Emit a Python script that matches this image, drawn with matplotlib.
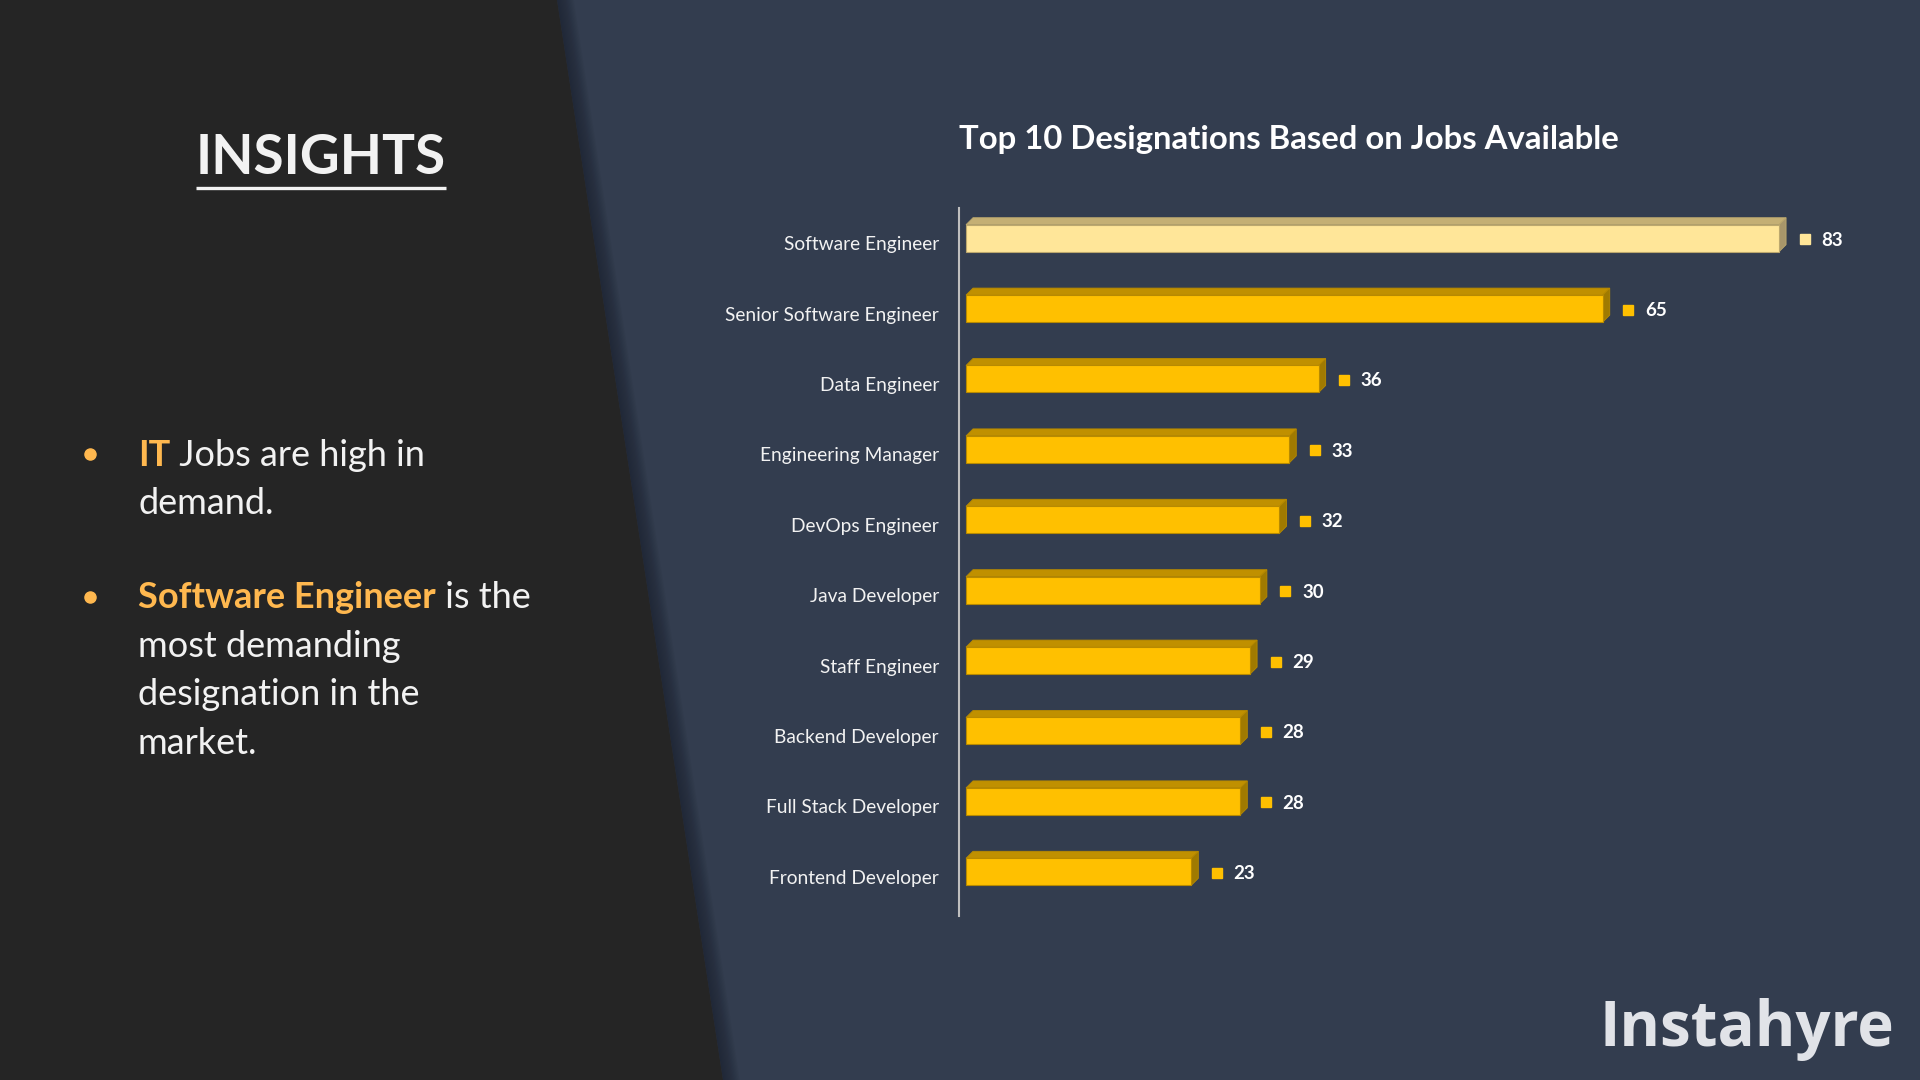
import matplotlib
matplotlib.use("Agg")
import matplotlib.pyplot as plt
from matplotlib.patches import Polygon

# data
designations = ["Software Engineer", "Senior Software Engineer", "Data Engineer",
                "Engineering Manager", "DevOps Engineer", "Java Developer",
                "Staff Engineer", "Backend Developer", "Full Stack Developer",
                "Frontend Developer"]
jobs = [83, 65, 36, 33, 32, 30, 29, 28, 28, 23]
highlight = "Software Engineer"

title = "Top 10 Designations Based on Jobs Available"
heading = "INSIGHTS"
bullets = [
    [[("IT", True), (" Jobs are high in", False)], [("demand.", False)]],
    [[("Software Engineer", True), (" is the", False)], [("most demanding", False)],
     [("designation in the", False)], [("market.", False)]],
]
brand = "Instahyre"

plt.rcParams['font.family'] = ['Lato', 'DejaVu Sans']

W, H = 1920, 1080
dark = "#252525"
navy = "#333d4f"
white = "#f2f2f2"
orange = "#ffb84f"

gold = dict(front="#ffc000", top="#c09000", side="#a07a00", edge="#b88a00")
pale = dict(front="#ffe699", top="#c4af74", side="#a8966a", edge="#bca86e")

fig = plt.figure(figsize=(W / 100, H / 100), dpi=100)
fig.patch.set_facecolor(navy)

# background panels, pixel coordinates
bg = fig.add_axes([0, 0, 1, 1])
bg.set_xlim(0, W)
bg.set_ylim(H, 0)
bg.axis("off")
top_x, bot_x = 557, 723
for k in range(14):
    off = 1.2 * (k + 1)
    bg.add_patch(Polygon([(top_x, 0), (top_x + off, 0), (bot_x + off, H), (bot_x, H)],
                         closed=True, fc="#1c2230", ec="none", alpha=0.07, zorder=1))
bg.add_patch(Polygon([(0, 0), (top_x, 0), (bot_x, H), (0, H)], closed=True,
                     fc=dark, ec="none", zorder=2))

# chart axes placed so 1 job = 9.8 px and one category row = 70.4 px
px_job = 9.796
row_px = 70.4
spine_x = 959
gap = 7 / px_job
xmax = 90
ax_left = spine_x
ax_w = (xmax + gap) * px_job
ax_top, ax_bot = 208, 916
ax = fig.add_axes([ax_left / W, 1 - ax_bot / H, ax_w / W, (ax_bot - ax_top) / H])
ax.set_xlim(-gap, xmax)
ax.set_ylim(-0.5 + (ax_bot - ax_top) / row_px, -0.5)
ax.patch.set_alpha(0)

dx = 7 / px_job
dy = 7 / row_px
hh = 13.5 / row_px
shift = 5 / row_px

for i, (name, v) in enumerate(zip(designations, jobs)):
    c = pale if name == highlight else gold
    yc = i - shift
    yt, yb = yc - hh, yc + hh
    ax.add_patch(Polygon([(0, yt), (v, yt), (v + dx, yt - dy), (dx, yt - dy)],
                         closed=True, fc=c["top"], ec=c["edge"], lw=0.6, zorder=3))
    ax.add_patch(Polygon([(v, yt), (v + dx, yt - dy), (v + dx, yb - dy), (v, yb)],
                         closed=True, fc=c["side"], ec=c["edge"], lw=0.6, zorder=3))
    ax.barh(yc, v, height=2 * hh, left=0, color=c["front"], edgecolor=c["edge"],
            linewidth=0.8, zorder=4)
    ax.plot(v + 2.6, yc + 1 / row_px, marker="s", ms=7, color=c["front"], zorder=5)
    ax.text(v + 4.3, yc + 2 / row_px, str(v), ha="left", va="center", color="white",
            fontsize=13.5, fontweight="bold", zorder=5)

ax.set_yticks(range(len(designations)), designations)
ax.tick_params(axis="y", length=0, pad=14.4, labelsize=13.8, labelcolor=white)
ax.set_xticks([])
for s in ["top", "right", "bottom"]:
    ax.spines[s].set_visible(False)
ax.spines["left"].set_color("#bfbfbf")
ax.spines["left"].set_linewidth(1.5)

fig.text(1289 / W, 1 - 140 / H, title, ha="center", va="center", color="white",
         fontsize=23.7, fontweight="bold")

# left panel text
hd = bg.text(321, 158, heading, ha="center", va="center", color=white,
             fontsize=39.6, fontweight="bold", zorder=5)
fig.canvas.draw()
bb = hd.get_window_extent()
inv = bg.transData.inverted()
(x0, _), (x1, _) = inv.transform([(bb.x0, bb.y0), (bb.x1, bb.y0)])
bg.plot([x0, x1], [188, 188], color=white, lw=2.4, solid_capstyle="butt", zorder=5)

line_h = 48.4
y_lines = [455, 598]
for start, block in zip(y_lines, bullets):
    bg.plot(90, start - 1, marker="o", ms=8, color=orange, zorder=5)
    for j, runs in enumerate(block):
        y = start + j * line_h
        prev = None
        for txt, hl in runs:
            kw = dict(color=orange if hl else white, fontsize=26,
                      fontweight="bold" if hl else "normal", zorder=5)
            if prev is None:
                prev = bg.text(138, y, txt, ha="left", va="center", **kw)
            else:
                prev = bg.annotate(txt, xy=(1, 0.5), xycoords=prev, ha="left",
                                   va="center", **kw)

bg.text(1894, 1046, brand, ha="right", va="baseline", color="#e1e3e8",
        fontsize=44.5, fontweight="bold", family=["Open Sans", "DejaVu Sans"], zorder=5)

fig.savefig("out.png", dpi=100, facecolor=fig.get_facecolor())
